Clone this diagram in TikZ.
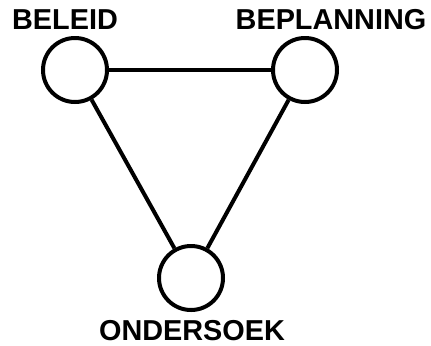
\documentclass[tikz,border=0pt]{standalone}
\usepackage{fontspec}
\setmainfont{Liberation Sans}
\tikzset{
		main/.style={circle, draw=black, line width=0.1cm, minimum size=1.6cm, inner sep=0pt},
		label/.style={font=\fontsize{20.5}{24}\selectfont\bfseries, inner sep=0pt},
		link/.style={black, line width=0.1cm}
	}
\begin{document}
\begin{tikzpicture}
\useasboundingbox (0,0) rectangle (10.775,-8.625);

\node (beleid) at (1.875,-1.75) [main] {};
\node (beplanning) at (7.625,-1.75) [main] {};
\node (ondersoek) at (4.775,-6.95) [main] {};


\node (tbeleid) at (1.625,-0.5) [label] {BELEID};
\node (tbeplanning) at (8.275,-0.5) [label] {BEPLANNING};
\node (tondersoek) at (4.8,-8.275) [label] {ONDERSOEK};


\draw [link] (beleid) -- (beplanning);
\draw [link] (beleid) -- (ondersoek);
\draw [link] (beplanning) -- (ondersoek);

\end{tikzpicture}
\end{document}
